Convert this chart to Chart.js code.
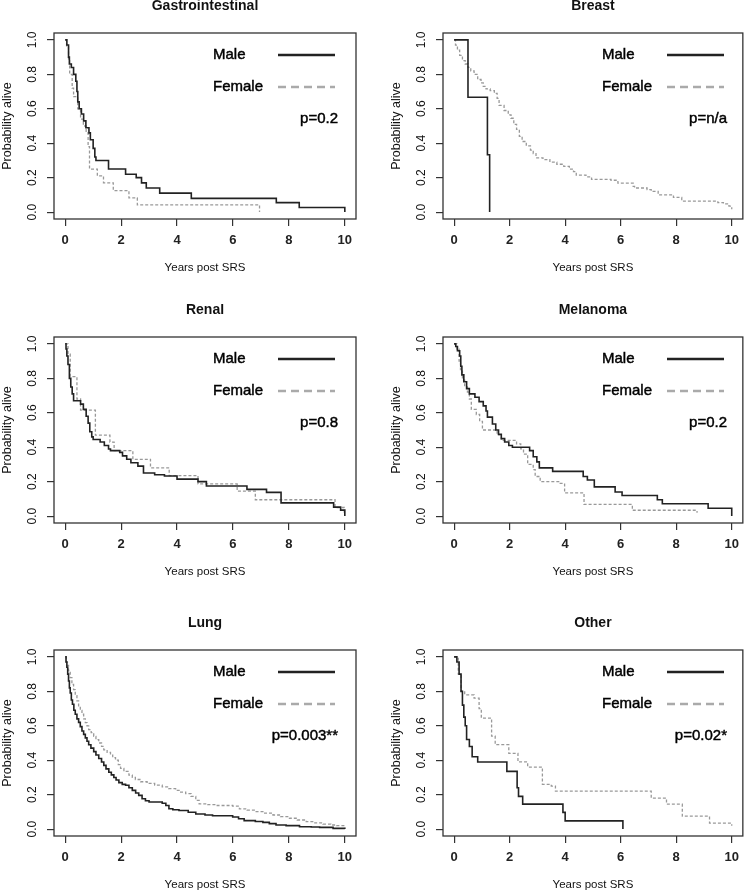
<!DOCTYPE html>
<html>
<head>
<meta charset="utf-8">
<script src="https://cdn.jsdelivr.net/npm/chart.js@4.4.1/dist/chart.umd.min.js"></script>
<style>
  body { margin: 0; background: #fff; width: 746px; height: 893px; overflow: hidden; position: relative; }
  canvas { position: absolute; }
</style>
</head>
<body>
<canvas id="c0" width="373" height="276" style="left:0px;top:0px"></canvas>
<canvas id="c1" width="357" height="276" style="left:389px;top:0px"></canvas>
<canvas id="c2" width="373" height="276" style="left:0px;top:304px"></canvas>
<canvas id="c3" width="357" height="276" style="left:389px;top:304px"></canvas>
<canvas id="c4" width="373" height="276" style="left:0px;top:617px"></canvas>
<canvas id="c5" width="357" height="276" style="left:389px;top:617px"></canvas>
<script>
// --- data: [years, survival] ---
const panelTitles = ['Gastrointestinal', 'Breast', 'Renal', 'Melanoma', 'Lung', 'Other'];
const pValues = ['p=0.2', 'p=n/a', 'p=0.8', 'p=0.2', 'p=0.003**', 'p=0.02*'];
const seriesNames = ['Male', 'Female'];
const xTicks = [0, 2, 4, 6, 8, 10];
const yTicks = [0, 0.2, 0.4, 0.6, 0.8, 1.0];

const giMale = [[0,1],[0.06,0.97],[0.12,0.9],[0.15,0.86],[0.22,0.84],[0.3,0.8],[0.38,0.76],[0.42,0.7],[0.45,0.64],[0.5,0.6],[0.58,0.57],[0.66,0.53],[0.74,0.49],[0.85,0.46],[0.9,0.42],[1.0,0.37],[1.06,0.32],[1.1,0.3],[1.55,0.25],[2.16,0.22],[2.54,0.2],[2.73,0.17],[2.9,0.14],[3.38,0.11],[4.51,0.08],[7.55,0.055],[8.37,0.027],[10,0]];
const giFemale = [[0,1],[0.05,0.96],[0.12,0.88],[0.16,0.8],[0.25,0.72],[0.3,0.67],[0.45,0.6],[0.55,0.54],[0.65,0.5],[0.75,0.46],[0.82,0.38],[0.87,0.25],[1.15,0.21],[1.37,0.17],[1.72,0.125],[2.28,0.083],[2.58,0.042],[6.95,0]];

const breastMale = [[0,1],[0.5,0.667],[1.2,0.333],[1.28,0]];
const breastFemale = [[0,1],[0.05,0.97],[0.12,0.94],[0.2,0.91],[0.3,0.88],[0.4,0.86],[0.5,0.84],[0.6,0.82],[0.72,0.8],[0.85,0.77],[0.97,0.75],[1.05,0.73],[1.15,0.715],[1.3,0.705],[1.45,0.69],[1.55,0.66],[1.62,0.62],[1.8,0.59],[1.95,0.565],[2.05,0.545],[2.15,0.51],[2.25,0.48],[2.35,0.44],[2.45,0.41],[2.6,0.385],[2.75,0.36],[2.85,0.34],[2.95,0.315],[3.2,0.305],[3.45,0.29],[3.7,0.278],[3.95,0.265],[4.15,0.25],[4.3,0.235],[4.4,0.215],[4.75,0.205],[4.95,0.19],[5.65,0.185],[5.9,0.168],[6.45,0.15],[6.5,0.14],[6.95,0.13],[7.1,0.12],[7.35,0.1],[7.9,0.085],[8.2,0.064],[9.5,0.055],[9.7,0.048],[9.9,0.035],[10,0.016]];

const renalMale = [[0,1],[0.03,0.97],[0.06,0.93],[0.1,0.88],[0.15,0.8],[0.2,0.75],[0.25,0.71],[0.3,0.67],[0.55,0.65],[0.65,0.62],[0.75,0.58],[0.82,0.54],[0.88,0.49],[0.95,0.46],[1.0,0.445],[1.25,0.43],[1.4,0.41],[1.55,0.39],[1.62,0.38],[1.95,0.37],[2.05,0.35],[2.2,0.33],[2.35,0.31],[2.6,0.29],[2.8,0.25],[3.2,0.24],[3.55,0.233],[4.0,0.215],[4.75,0.2],[5.05,0.175],[6.5,0.155],[7.2,0.138],[7.72,0.077],[9.6,0.052],[9.85,0.035],[10,0]];
const renalFemale = [[0,1],[0.1,0.94],[0.18,0.81],[0.42,0.68],[0.55,0.615],[1.08,0.47],[1.6,0.43],[1.75,0.38],[2.42,0.33],[3.05,0.28],[3.72,0.235],[4.75,0.187],[6.15,0.145],[6.8,0.095],[9.65,0.05],[9.98,0.02]];

const melMale = [[0,1],[0.06,0.985],[0.12,0.96],[0.2,0.93],[0.24,0.87],[0.28,0.82],[0.35,0.78],[0.45,0.74],[0.55,0.71],[0.75,0.69],[0.9,0.665],[1.05,0.64],[1.15,0.61],[1.2,0.575],[1.38,0.535],[1.5,0.5],[1.6,0.475],[1.7,0.45],[1.82,0.43],[1.97,0.41],[2.1,0.4],[2.72,0.38],[2.85,0.345],[2.98,0.315],[3.07,0.28],[3.55,0.26],[4.65,0.23],[4.8,0.21],[5.05,0.17],[5.8,0.14],[6.05,0.12],[7.32,0.095],[7.5,0.072],[9.15,0.046],[10,0]];
const melFemale = [[0,1],[0.1,0.97],[0.18,0.9],[0.23,0.85],[0.3,0.79],[0.38,0.75],[0.48,0.72],[0.55,0.68],[0.62,0.62],[0.8,0.59],[0.92,0.55],[1.02,0.5],[1.55,0.47],[1.7,0.44],[2.25,0.42],[2.4,0.39],[2.5,0.36],[2.65,0.3],[2.85,0.27],[2.92,0.23],[3.1,0.2],[3.8,0.19],[3.98,0.135],[4.68,0.068],[6.42,0.034],[8.75,0.02]];

const lungMale = [[0,1],[0.03,0.97],[0.06,0.94],[0.09,0.9],[0.12,0.86],[0.15,0.82],[0.18,0.79],[0.22,0.75],[0.26,0.725],[0.31,0.69],[0.36,0.667],[0.42,0.64],[0.48,0.62],[0.54,0.595],[0.6,0.57],[0.66,0.55],[0.72,0.53],[0.78,0.51],[0.84,0.49],[0.92,0.47],[1.02,0.45],[1.1,0.43],[1.2,0.41],[1.3,0.39],[1.38,0.37],[1.46,0.35],[1.56,0.33],[1.65,0.315],[1.74,0.3],[1.82,0.285],[1.92,0.27],[2.04,0.26],[2.16,0.255],[2.28,0.24],[2.4,0.225],[2.52,0.21],[2.63,0.196],[2.75,0.176],[2.87,0.165],[3.0,0.157],[3.47,0.15],[3.6,0.137],[3.71,0.118],[3.85,0.112],[4.07,0.108],[4.4,0.098],[4.67,0.088],[5.0,0.082],[5.27,0.078],[5.99,0.07],[6.2,0.06],[6.4,0.049],[6.8,0.044],[7.07,0.039],[7.3,0.032],[7.54,0.024],[7.9,0.02],[8.38,0.014],[8.8,0.012],[9.1,0.01],[9.58,0.004],[10,0]];
const lungFemale = [[0,1],[0.04,0.97],[0.08,0.95],[0.12,0.92],[0.18,0.88],[0.24,0.84],[0.3,0.81],[0.36,0.775],[0.42,0.745],[0.48,0.716],[0.54,0.69],[0.6,0.667],[0.66,0.64],[0.72,0.618],[0.78,0.6],[0.84,0.578],[0.93,0.56],[1.02,0.539],[1.1,0.52],[1.2,0.5],[1.3,0.48],[1.38,0.46],[1.5,0.445],[1.62,0.43],[1.7,0.415],[1.8,0.4],[1.9,0.375],[1.98,0.353],[2.1,0.335],[2.28,0.314],[2.4,0.3],[2.51,0.288],[2.7,0.275],[2.93,0.265],[3.2,0.255],[3.47,0.245],[3.7,0.235],[3.95,0.225],[4.1,0.215],[4.31,0.206],[4.5,0.19],[4.67,0.167],[4.79,0.147],[5.1,0.142],[5.39,0.137],[5.99,0.133],[6.23,0.118],[6.5,0.11],[6.83,0.102],[7.1,0.093],[7.43,0.082],[7.7,0.072],[8.02,0.063],[8.3,0.053],[8.62,0.043],[8.9,0.036],[9.22,0.029],[9.5,0.024],[9.7,0.02],[10,0.01]];

const otherMale = [[0,1],[0.1,0.97],[0.18,0.9],[0.25,0.8],[0.3,0.72],[0.35,0.65],[0.4,0.6],[0.45,0.52],[0.55,0.48],[0.65,0.42],[0.85,0.39],[1.9,0.335],[2.27,0.24],[2.32,0.19],[2.47,0.145],[3.92,0.097],[4.0,0.048],[6.08,0]];
const otherFemale = [[0,1],[0.15,0.9],[0.25,0.8],[0.38,0.78],[0.72,0.76],[0.9,0.7],[0.98,0.645],[1.35,0.54],[1.48,0.49],[1.97,0.44],[2.3,0.39],[2.65,0.36],[3.18,0.26],[3.5,0.25],[3.65,0.22],[7.1,0.18],[7.65,0.145],[8.22,0.075],[9.2,0.035],[10,0.02]];

const maleSeries = [giMale, breastMale, renalMale, melMale, lungMale, otherMale];
const femaleSeries = [giFemale, breastFemale, renalFemale, melFemale, lungFemale, otherFemale];

const FONT = '"Liberation Sans", Arial, sans-serif';

// draw text a little heavier, the scanned figure is rather thick
function heavyText(ctx, txt, x, y) {
  ctx.fillText(txt, x, y);
  ctx.strokeText(txt, x, y);
}

// title, legend and p value sit inside/above the plot box like in R
const decor = {
  id: 'decor',
  afterDraw(chart, args, opts) {
    const ctx = chart.ctx;
    const a = chart.chartArea;
    ctx.save();
    ctx.strokeStyle = '#333';
    ctx.lineWidth = 1.3;
    ctx.strokeRect(a.left, a.top, a.right - a.left, a.bottom - a.top);

    ctx.fillStyle = '#111';
    ctx.textBaseline = 'middle';
    ctx.textAlign = 'center';
    ctx.font = 'bold 14px ' + FONT;
    ctx.fillText(opts.title, (a.left + a.right) / 2, a.top - 27);

    ctx.fillStyle = '#000';
    ctx.strokeStyle = '#000';
    ctx.lineWidth = 0.45;
    ctx.textAlign = 'left';
    ctx.font = '15px ' + FONT;
    heavyText(ctx, seriesNames[0], a.left + 159, a.top + 22);
    heavyText(ctx, seriesNames[1], a.left + 159, a.top + 54);
    ctx.textAlign = 'right';
    heavyText(ctx, opts.p, a.left + 284, a.top + 86);

    ctx.lineWidth = 2.5;
    ctx.strokeStyle = '#222';
    ctx.beginPath();
    ctx.moveTo(a.left + 224, a.top + 22);
    ctx.lineTo(a.left + 281, a.top + 22);
    ctx.stroke();
    ctx.strokeStyle = '#aaa';
    ctx.setLineDash([8, 5]);
    ctx.beginPath();
    ctx.moveTo(a.left + 224, a.top + 54);
    ctx.lineTo(a.left + 281, a.top + 54);
    ctx.stroke();
    ctx.setLineDash([]);
    ctx.restore();
  }
};

function toXY(arr) {
  return arr.map(p => ({ x: p[0], y: p[1] }));
}

function makePanel(i) {
  const rightCol = i % 2 === 1;
  new Chart(document.getElementById('c' + i), {
    type: 'line',
    data: {
      datasets: [
        { label: seriesNames[0], data: toXY(maleSeries[i]), borderColor: '#222', borderWidth: 1.6,
          stepped: 'before', pointRadius: 0, fill: false },
        { label: seriesNames[1], data: toXY(femaleSeries[i]), borderColor: '#999', borderWidth: 1.3,
          borderDash: [3, 2], stepped: 'before', pointRadius: 0, fill: false }
      ]
    },
    options: {
      responsive: false,
      animation: false,
      devicePixelRatio: 1,
      events: [],
      layout: { padding: { top: 33, left: 0, right: rightCol ? 1 : 17, bottom: 0 } },
      plugins: {
        legend: { display: false },
        tooltip: { enabled: false },
        decor: { title: panelTitles[i], p: pValues[i] }
      },
      scales: {
        x: {
          type: 'linear', min: -0.4, max: 10.4,
          afterBuildTicks: s => { s.ticks = xTicks.map(v => ({ value: v })); },
          afterFit: s => { s.height = 57; },
          border: { display: false },
          grid: { drawOnChartArea: false, drawTicks: true, tickLength: 7, color: '#333', lineWidth: 1.2 },
          ticks: { autoSkip: false, maxRotation: 0, padding: 7, color: '#222',
                   font: { family: FONT, size: 13, weight: 'bold' }, callback: v => String(v) },
          title: { display: true, text: 'Years post SRS', color: '#111',
                   font: { family: FONT, size: 11.5 }, padding: { top: 0, bottom: 1 } }
        },
        y: {
          min: -0.04, max: 1.04,
          afterBuildTicks: s => { s.ticks = yTicks.map(v => ({ value: v })); },
          afterFit: s => { s.width = 54; },
          border: { display: false },
          grid: { drawOnChartArea: false, drawTicks: true, tickLength: 7, color: '#333', lineWidth: 1.2 },
          ticks: { autoSkip: false, minRotation: 90, maxRotation: 90, crossAlign: 'center', padding: 6,
                   color: '#111', font: { family: FONT, size: 12 }, callback: v => v.toFixed(1) },
          title: { display: true, text: 'Probability alive', color: '#111',
                   font: { family: FONT, size: 12.5 }, padding: { top: 0, bottom: 0 } }
        }
      }
    },
    plugins: [decor]
  });
}

for (let i = 0; i < 6; i++) makePanel(i);
</script>
</body>
</html>
